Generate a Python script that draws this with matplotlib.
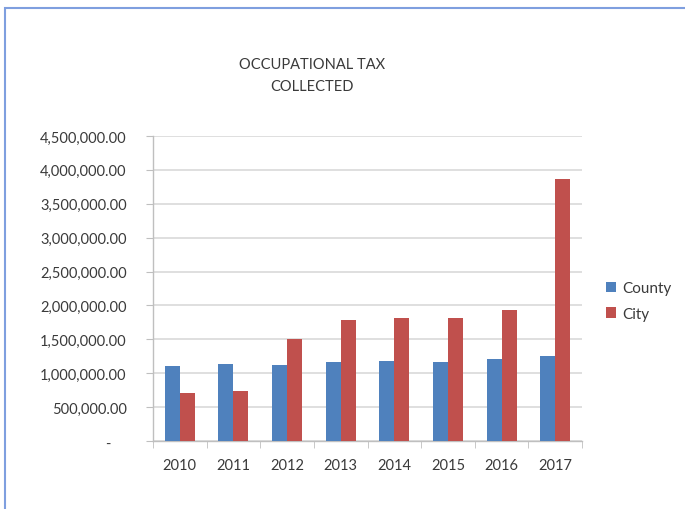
import matplotlib.pyplot as plt
from matplotlib.patches import Rectangle
from matplotlib.ticker import FuncFormatter, FixedLocator
import numpy as np

years = ['2010', '2011', '2012', '2013', '2014', '2015', '2016', '2017']
county = [1100000, 1135000, 1125000, 1160000, 1175000, 1160000, 1210000, 1260000]
city = [715000, 740000, 1505000, 1790000, 1810000, 1820000, 1940000, 3860000]

plt.rcParams['font.family'] = ['Lato', 'DejaVu Sans']
text_col = '#3a3a3a'
grid_col = '#d9d9d9'

fig = plt.figure(figsize=(6.85, 5.1), dpi=100)
fig.patch.set_facecolor('white')

# outer frame (runs off the right and bottom edge)
fig.patches.append(Rectangle((5 / 685, -0.1), 1.1, 1 - 9 / 510 + 0.1,
                             transform=fig.transFigure, fill=False,
                             edgecolor='#7f9fdf', linewidth=1.5))

ax = fig.add_axes([153 / 685, 1 - 442 / 510, (582 - 153) / 685, (442 - 137) / 510])

x = np.arange(len(years))
w = 0.28
ax.bar(x - w / 2, county, w, color='#4f81bd', label='County', zorder=3)
ax.bar(x + w / 2, city, w, color='#c0504d', label='City', zorder=3)

ax.set_xlim(-0.5, len(years) - 0.5)
ax.set_ylim(0, 4500000)
ax.set_yticks(np.arange(0, 4500001, 500000))
ax.yaxis.set_major_formatter(FuncFormatter(lambda v, p: '-    ' if v == 0 else f'{v:,.2f}'))
ax.set_xticks(x)
ax.set_xticklabels(years)
ax.xaxis.set_minor_locator(FixedLocator(np.arange(-0.5, len(years), 1)))

ax.grid(axis='y', color=grid_col, linewidth=1.2, zorder=0)
for s in ['top', 'right']:
    ax.spines[s].set_visible(False)
for s in ['left', 'bottom']:
    ax.spines[s].set_color('#bfbfbf')
    ax.spines[s].set_linewidth(1.0)

ax.tick_params(axis='y', length=5, color='#bfbfbf', labelsize=10.5, labelcolor=text_col, pad=14)
ax.tick_params(axis='x', which='major', length=0, labelsize=10.5, labelcolor=text_col, pad=12)
ax.tick_params(axis='x', which='minor', length=5, color='#bfbfbf')

fig.text(312 / 685, 1 - 76 / 510, 'OCCUPATIONAL TAX\nCOLLECTED', ha='center', va='center',
         fontsize=10.5, color=text_col, linespacing=1.7)

fig.legend(loc='center left', bbox_to_anchor=(592 / 685, 1 - 302 / 510), frameon=False,
           fontsize=11, labelcolor=text_col, handlelength=0.7, handleheight=0.7,
           handletextpad=0.4, labelspacing=0.75)

fig.savefig('out.png', dpi=100)
